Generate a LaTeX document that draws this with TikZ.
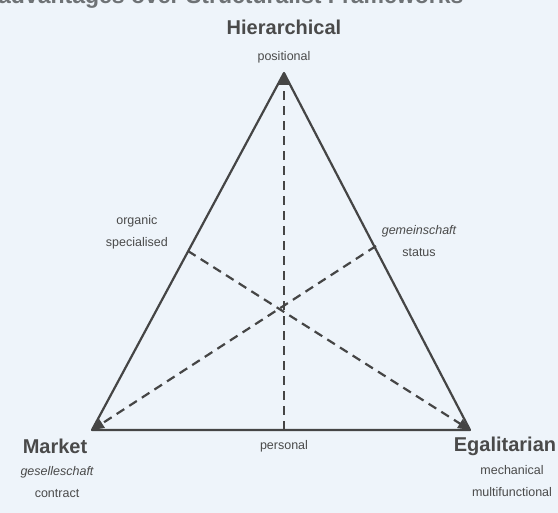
\documentclass[tikz,border=0pt]{standalone}
\usepackage{fontspec}
\setmainfont{Liberation Sans}
\usetikzlibrary{arrows.meta}
\definecolor{bg}{HTML}{EEF4FA}
\definecolor{ink}{HTML}{454545}
\definecolor{txt}{HTML}{4A4A4A}
\definecolor{faint}{HTML}{6E7275}
\begin{document}
\begin{tikzpicture}[x=1pt,y=-1pt,
  side/.style={draw=ink,line width=2.2pt,line join=round},
  med/.style={draw=ink,line width=2.2pt,dash pattern=on 9pt off 6pt,
    -{Triangle[length=12pt,width=10pt]}},
  title/.style={text=txt,font=\fontsize{20}{22}\selectfont\bfseries,inner sep=0pt},
  lab/.style={text=txt,font=\fontsize{12.5}{22}\selectfont,inner sep=0pt,align=center}]
\fill[bg] (0,0) rectangle (558,513);
\useasboundingbox (0,0) rectangle (558,513);
\clip (0,0) rectangle (558,513);
\node[anchor=base west,inner sep=0pt,text=faint,font=\fontsize{23}{25}\selectfont\bfseries] (top) at (-2,4) {advantages over Structuralist Frameworks};
\coordinate (H) at (284,73);
\coordinate (M) at (92,430);
\coordinate (E) at (470,430);
\coordinate (mB) at (284,430);
\coordinate (mL) at (188,251);
\coordinate (mR) at (376,246);
\draw[side] (M) -- (H) -- (E) -- cycle;
\draw[med] (mB) -- (H);
\draw[med] (mL) -- (E);
\draw[med] (mR) -- (M);
\node[title] (th) at (284,27) {Hierarchical};
\node[lab] (tpos) at (284,57) {positional};
\node[lab,anchor=east] (torg) at (168,232) {organic\\specialised};
\node[lab] (tgem) at (419,241) {\itshape gemeinschaft\\status};
\node[title] (tm) at (55,446) {Market};
\node[lab] (tgs) at (57,482) {\itshape geselleschaft\\contract};
\node[lab] (tper) at (284,446) {personal};
\node[title] (te) at (505,446) {Egalitarian};
\node[lab] (tme) at (512,481) {mechanical\\multifunctional};
\end{tikzpicture}
\end{document}
